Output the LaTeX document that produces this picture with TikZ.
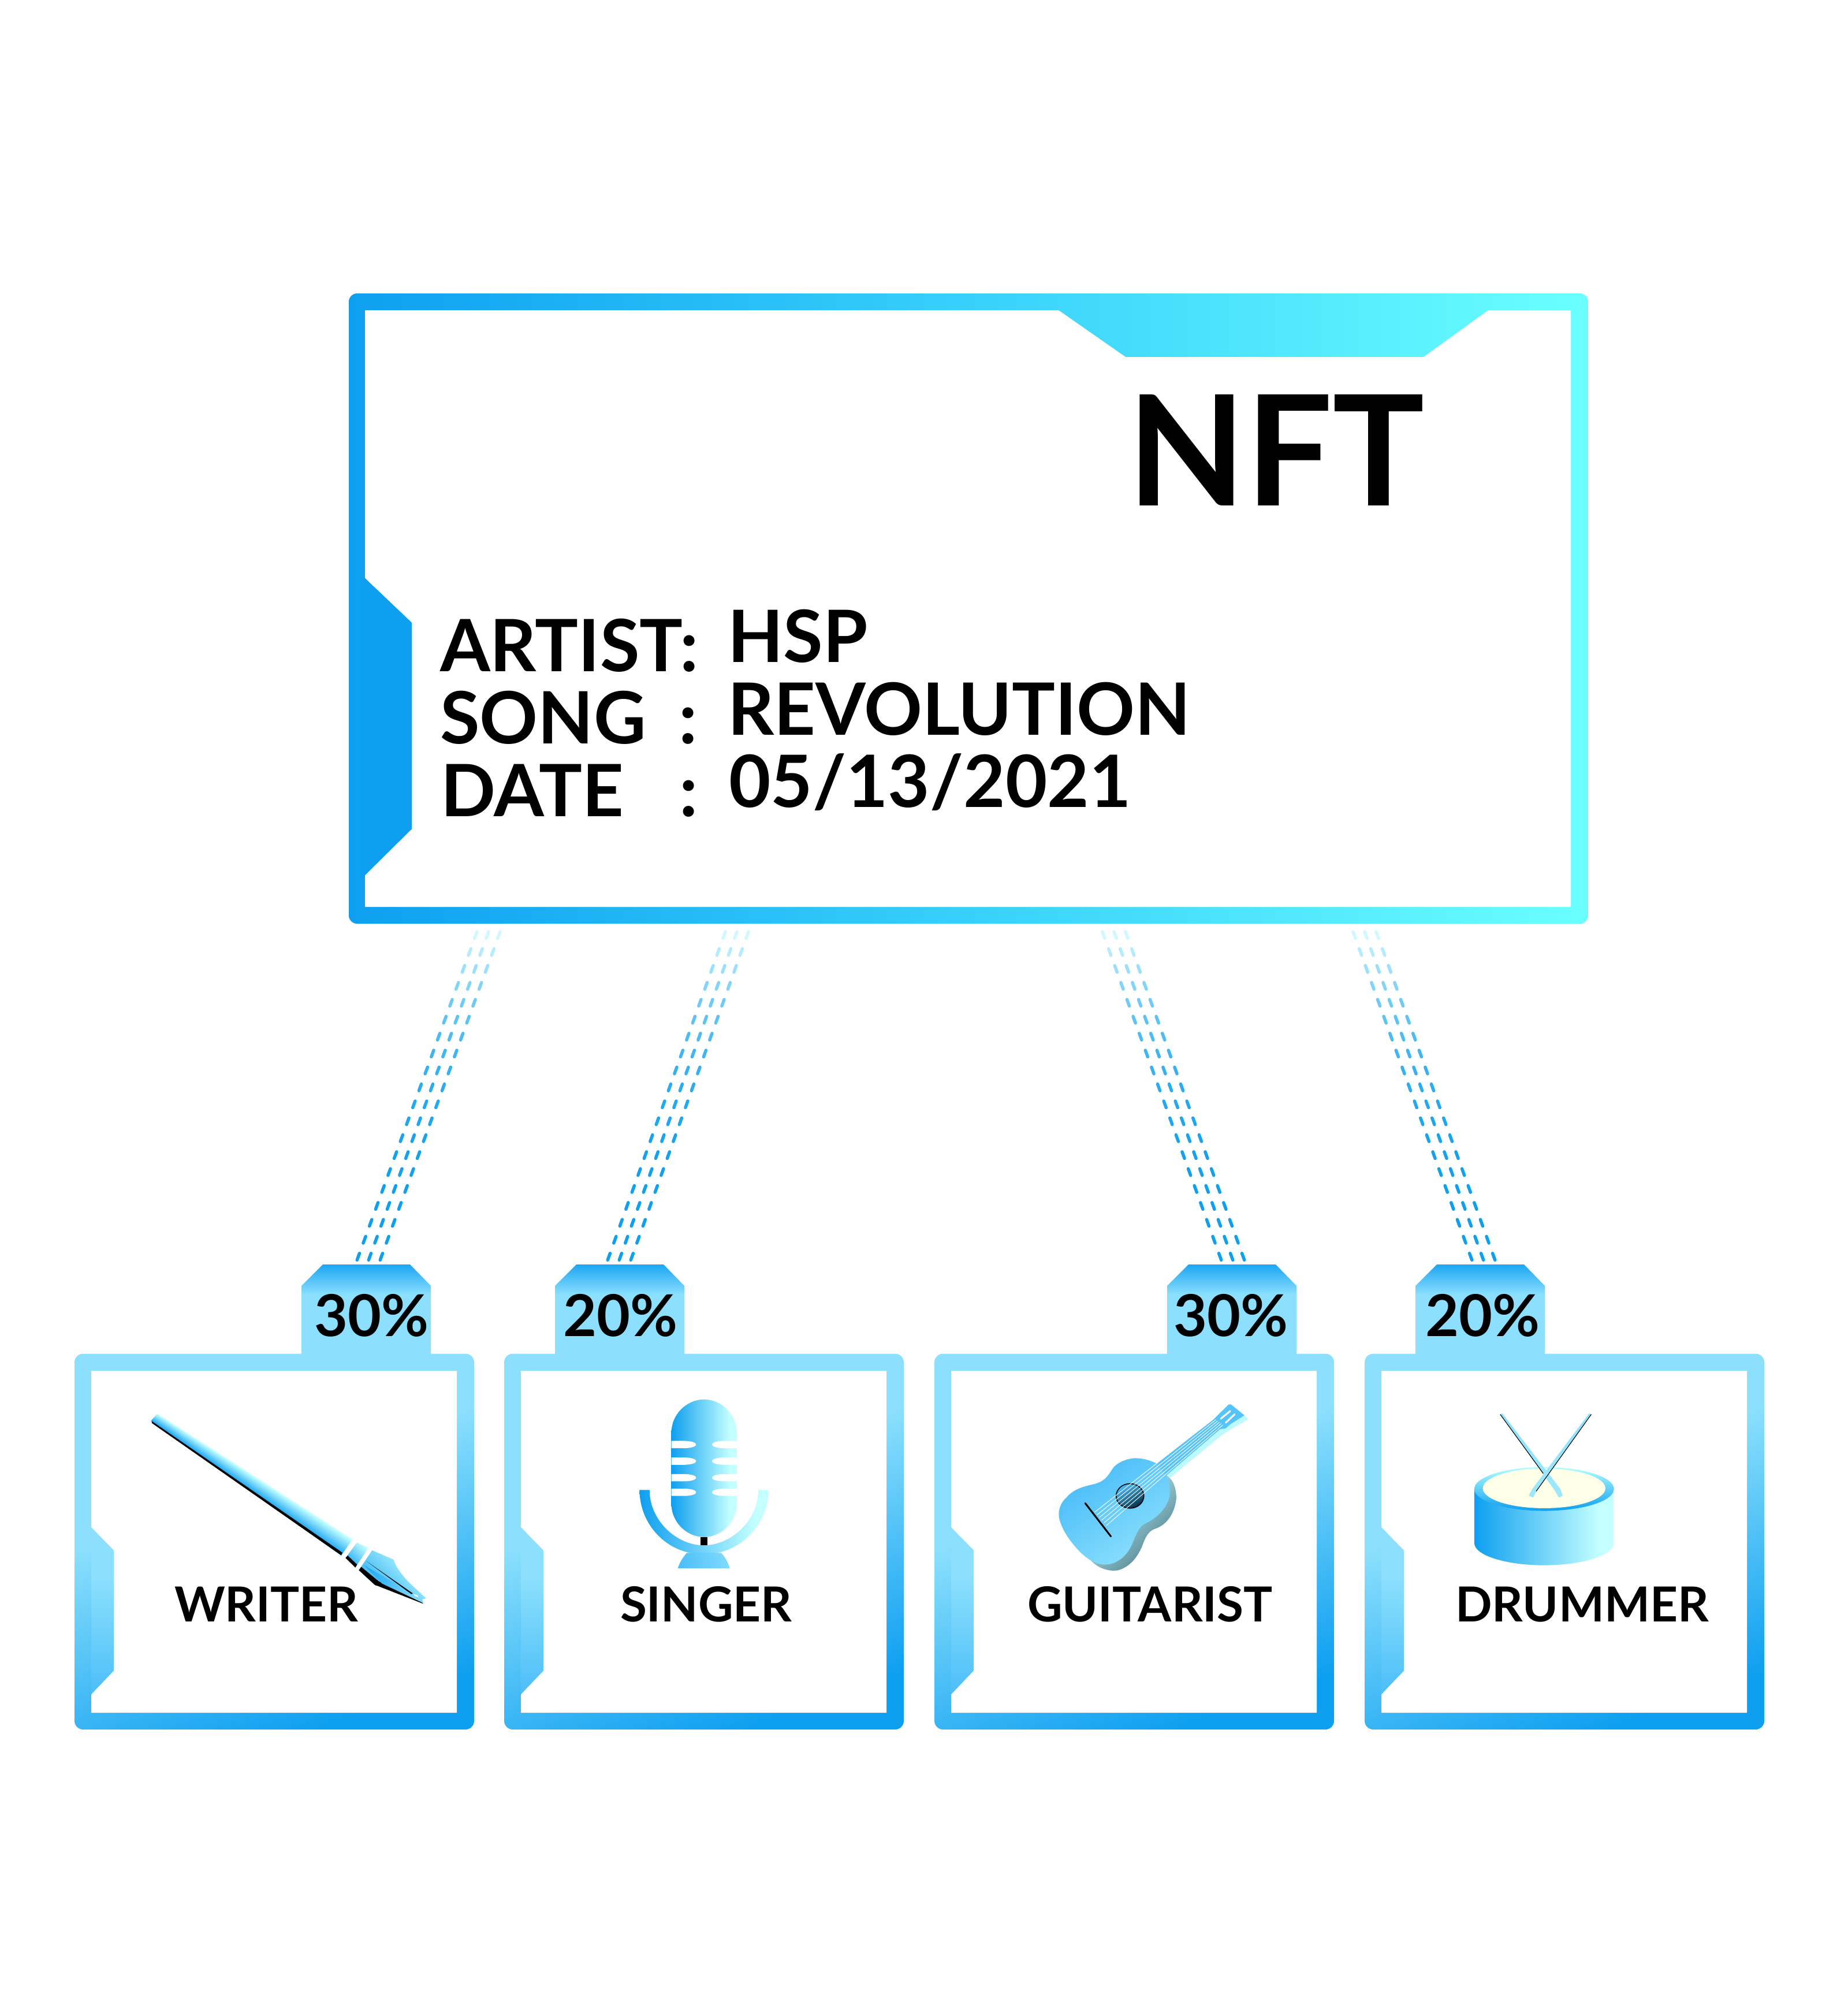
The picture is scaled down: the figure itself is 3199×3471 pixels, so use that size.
\documentclass[tikz,border=0pt]{standalone}
\usepackage{fontspec}
\setmainfont{Lato}
\usetikzlibrary{calc}
\definecolor{cA}{HTML}{0E9FF0}
\definecolor{cM}{HTML}{38D0FB}
\definecolor{cZ}{HTML}{6AFFFF}
\definecolor{cL}{HTML}{8CE0FD}
\definecolor{cT}{HTML}{1CA6F2}
\definecolor{cP}{HTML}{C4FFFF}
\definecolor{cD}{HTML}{D2F8FF}
\definecolor{cN}{HTML}{4CBEF8}
\pgfdeclarehorizontalshading{mainfade}{100bp}{color(0bp)=(cA); color(25bp)=(cA); color(50bp)=(cM); color(75bp)=(cZ); color(100bp)=(cZ)}
\pgfdeclareverticalshading{cardfade}{100bp}{color(0bp)=(cA); color(25bp)=(cA); color(58bp)=(cL); color(100bp)=(cL)}
\pgfdeclareverticalshading{tabfade}{100bp}{color(0bp)=(cL); color(58bp)=(cL); color(75bp)=(cT); color(100bp)=(cT)}
\pgfdeclareverticalshading{notchfade}{100bp}{color(0bp)=(cN); color(25bp)=(cN); color(60bp)=(cL); color(100bp)=(cL)}
\pgfdeclarehorizontalshading{iconfade}{100bp}{color(0bp)=(cA); color(25bp)=(cA); color(70bp)=(cP); color(100bp)=(cP)}
\tikzset{
  plain/.style={inner sep=0pt,outer sep=0pt,anchor=base west,font=\bfseries},
  bigtext/.style={plain,font=\bfseries\fontsize{125}{125}\selectfont},
  nfttext/.style={plain,font=\bfseries\fontsize{266}{266}\selectfont},
  roletext/.style={plain,font=\bfseries\fontsize{83.6}{84}\selectfont},
  pcttext/.style={plain,font=\bfseries\fontsize{100}{100}\selectfont},
  dashline/.style={line width=5.5pt,line cap=round},
  zoomA/.style={shift={(100,2150)},x=0.5102pt,y=-0.574pt},
  zoomB/.style={shift={(860,2150)},x=0.5102pt,y=-0.574pt},
  zoomC/.style={shift={(1620,2150)},x=0.5102pt,y=-0.574pt},
  zoomD/.style={shift={(2360,2150)},x=0.5102pt,y=-0.574pt},
}
% card: #1 left x, #2 tab left x
\newcommand\cardbox[2]{%
  \begin{scope}[shift={(#1,2343.5)}]
    \shade[shading=cardfade,shading angle=20,rounded corners=15pt] (0,0) rectangle (692,650.5);
    \fill[white] (29,29.5) -- (662,29.5) -- (662,621.5) -- (29,621.5) -- (29,589.5) -- (68,548.5) -- (68,340.5) -- (29,300.5) -- cycle;
    \shade[shading=notchfade] (29,300.5) -- (68,340.5) -- (68,548.5) -- (29,589.5) -- cycle;
  \end{scope}
  \shade[shading=tabfade] (#2,2344) -- (#2,2226) -- (#2+37,2189) -- (#2+188,2189) -- (#2+224,2226) -- (#2+224,2344) -- cycle;
}
% three dashed strands: #1 name, #2 bottom x of first strand, #3 top x of first strand
\newcommand\strands[3]{%
  \foreach \k in {0,1,2}{%
    \coordinate (#1t\k) at ({#3+20*\k},1613);
    \coordinate (#1b\k) at ({#2+20*\k},2182);
    \foreach \i in {0,...,19}{%
      \pgfmathsetmacro\tA{\i*0.0515}
      \pgfmathsetmacro\tB{\i*0.0515+0.0202}
      \pgfmathsetmacro\pp{100*pow(1-\i/19,3)}
      \colorlet{dashc}{cD!\pp!cA}
      \draw[dashline,draw=dashc] ($(#1t\k)!\tA!(#1b\k)$) -- ($(#1t\k)!\tB!(#1b\k)$);
    }
  }%
}
\begin{document}
\begin{tikzpicture}[x=1pt,y=-1pt]
\useasboundingbox (0,0) rectangle (3199,3471);
\fill[white] (0,0) rectangle (3199,3471);

% ---- main card
\shade[shading=mainfade,rounded corners=14pt] (604,508) rectangle (2750,1599);
\fill[white] (632,537) -- (1833,537) -- (1949,618) -- (2465,618) -- (2577,537) -- (2720,537) -- (2720,1570) -- (632,1570) -- (632,1515) -- (713,1435) -- (713,1078) -- (632,1001) -- cycle;
\fill[cA] (625,1001) -- (632,1001) -- (713,1078) -- (713,1435) -- (632,1515) -- (625,1515) -- cycle;

\node[nfttext] (nft) at (1952,875) {NFT};
\node[bigtext] (artist) at (762,1162) {ARTIST};
\node[bigtext] (artistc) at (1177,1162) {:};
\node[bigtext] (song) at (762,1287) {SONG};
\node[bigtext] (songc) at (1175,1287) {:};
\node[bigtext] (date) at (763,1413) {DATE};
\node[bigtext] (datec) at (1176,1413) {:};
\node[bigtext] (hsp) at (1260,1146) {HSP};
\node[bigtext] (rev) at (1260,1272) {REVOLUTION};
\node[bigtext] (dat) at (1262,1397) {05/13/2021};

% ---- connectors
\strands{w}{618}{826}
\strands{s}{1052}{1256}
\strands{g}{2115}{1909}
\strands{d}{2549}{2343}

% ---- cards
\cardbox{129}{522}
\cardbox{873}{961}
\cardbox{1618}{2021}
\cardbox{2363}{2451}

\node[pcttext] (p1) at (544,2313) {30\%};
\node[pcttext] (p2) at (975,2313) {20\%};
\node[pcttext] (p3) at (2032,2313) {30\%};
\node[pcttext] (p4) at (2468,2313) {20\%};
\node[roletext] (r1) at (302,2807) {WRITER};
\node[roletext] (r2) at (1074,2807) {SINGER};
\node[roletext] (r3) at (1779,2807) {GUITARIST};
\node[roletext] (r4) at (2520,2807) {DRUMMER};

% ---- pen
\begin{scope}[zoomA]
  \foreach \j in {0,...,11}{%
    \pgfmathsetmacro\q{\j/12}
    \pgfmathsetmacro\cc{100*\j/11}
    \colorlet{penc}{cT!\cc!cP}
    \fill[penc] ($(338,518)!\q!(317,540)$) -- ($(1000,897)!\q!(962,945)$) -- (962,945) -- (317,540) -- cycle;
  }
  \fill[black] (320,541) -- (966,937) -- (962,945) -- (319,546) -- cycle;
  \shade[top color=cP,bottom color=cT,shading angle=-45] (1015,907) -- (1055,922) -- (1010,982) -- (977,953) -- cycle;
  \fill[black] (977,953) -- (984,946) -- (1016,973) -- (1010,982) -- cycle;
  \shade[top color=cP,bottom color=cT,shading angle=-45] (1067,930) -- (1140,958) .. controls (1150,985) and (1165,1000) .. (1190,1025) -- (1250,1075) -- (1237,1078) -- (1241,1091) -- (1085,1037) -- (1077,1035) -- (1022,990) -- cycle;
  \fill[black] (1030,980) -- (1090,1024) -- (1215,1070) -- (1240,1091) -- (1085,1037) -- (1077,1035) -- (1022,990) -- cycle;
  \shade[left color=cT,right color=cL] (1040,975) -- (1200,1058) -- (1238,1088) -- (1100,1030) -- cycle;
  \fill[black] (1048,963) -- (1205,1060) -- (1200,1062) -- cycle;
  \fill[white] (1208,1062) -- (1222,1066) -- (1224,1072) -- (1212,1068) -- cycle;
\end{scope}

% ---- microphone
\begin{scope}[zoomB]
  \shade[shading=iconfade] (593,575) .. controls (593,520) and (645,475) .. (704,475) .. controls (763,475) and (815,520) .. (815,575) -- (815,790) .. controls (815,845) and (763,890) .. (704,890) .. controls (645,890) and (593,845) .. (593,790) -- cycle;
  \foreach \yy in {611,661,711,755}{%
    \fill[white] (593,\yy-11) -- (640,\yy-11) .. controls (665,\yy-10) and (677,\yy-5) .. (677,\yy) .. controls (677,\yy+5) and (665,\yy+10) .. (640,\yy+11) -- (593,\yy+11) -- cycle;
    \fill[white] (815,\yy-11) -- (768,\yy-11) .. controls (743,\yy-10) and (731,\yy-5) .. (731,\yy) .. controls (731,\yy+5) and (743,\yy+10) .. (768,\yy+11) -- (815,\yy+11) -- cycle;
  }
  \fill[black] (692,890) rectangle (716,915);
  \shade[shading=iconfade] (485,748) -- (519,748) .. controls (519,840) and (610,915) .. (703,915) .. controls (796,915) and (888,840) .. (888,748) -- (922,748) .. controls (922,850) and (830,942) .. (703,942) .. controls (575,942) and (485,850) .. (485,748) -- cycle;
  \shade[left color=cN,right color=cL!85!cN] (615,984) .. controls (622,965) and (632,952) .. (645,938) -- (762,938) .. controls (775,950) and (785,965) .. (791,984) -- cycle;
\end{scope}

% ---- guitar
\begin{scope}[zoomC]
  \shade[top color=cP,bottom color=black!45!cL,shading angle=45] (525,958) .. controls (550,985) and (590,995) .. (620,990) .. controls (660,980) and (685,950) .. (700,920) .. controls (712,890) and (722,872) .. (745,865) .. controls (780,855) and (810,825) .. (817,775) .. controls (818,750) and (810,725) .. (795,712) -- (785,700) -- (700,800) -- cycle;
  \fill[cP!85!cL] (795,712) -- (975,580) -- (990,572) -- (1060,535) -- (1048,523) -- (960,560) -- (780,700) -- cycle;
  \shade[top color=cN!90!cA,bottom color=cL,shading angle=35] (750,668) .. controls (720,655) and (690,650) .. (665,653) .. controls (625,660) and (605,675) .. (595,692) .. controls (580,712) and (570,722) .. (540,730) .. controls (500,738) and (470,745) .. (445,770) .. controls (420,790) and (415,815) .. (420,835) .. controls (430,870) and (455,900) .. (480,925) .. controls (510,955) and (545,975) .. (580,973) .. controls (620,970) and (650,945) .. (665,915) .. controls (680,885) and (690,855) .. (715,848) .. controls (755,830) and (795,795) .. (795,755) .. controls (795,730) and (790,715) .. (782,703) -- cycle;
  \fill[cN!85!cL] (750,668) -- (940,538) -- (995,490) -- (1003,490) -- (1048,523) -- (1000,550) -- (985,562) -- (965,565) -- (782,705) -- cycle;
  \draw[white,line width=3pt,line cap=round] (968,533) -- (1000,510);
  \draw[white,line width=3pt,line cap=round] (985,545) -- (1015,520);
  \shade[top color=cN,bottom color=black!70!cA,shading angle=30,draw=black,line width=1.6pt] (660,766) ellipse (47 and 37);
  \foreach \s in {0,...,5}{%
    \draw[white,line width=0.9pt] ({540+\s*8},{815+\s*8}) -- ({945+\s*6},{532+\s*4});
  }
  \draw[black,line width=3pt,line cap=round] (508,788) -- (595,888);
\end{scope}

% ---- drum
\begin{scope}[zoomD]
  \shade[shading=iconfade] (378,745) -- (378,908) .. controls (378,945) and (485,975) .. (615,975) .. controls (745,975) and (851,945) .. (851,908) -- (851,745) -- cycle;
  \shade[top color=cP!80!cZ,bottom color=cA] (615,745) ellipse (237 and 66);
  \fill[fill=yellow!10!white] (615,743) ellipse (208 and 60);
  \shade[top color=cL,bottom color=cL!70!cP] (466,520) -- (473,517) -- (670,745) -- (678,765) -- (665,771) -- (653,752) -- cycle;
  \draw[black,line width=1.1pt] (466,520) -- (612,698);
  \shade[top color=cL,bottom color=cL!70!cP] (775,520) -- (768,517) -- (575,745) -- (563,765) -- (578,771) -- (588,752) -- cycle;
  \draw[black,line width=1.1pt] (775,520) -- (588,752);
\end{scope}
\end{tikzpicture}
\end{document}
